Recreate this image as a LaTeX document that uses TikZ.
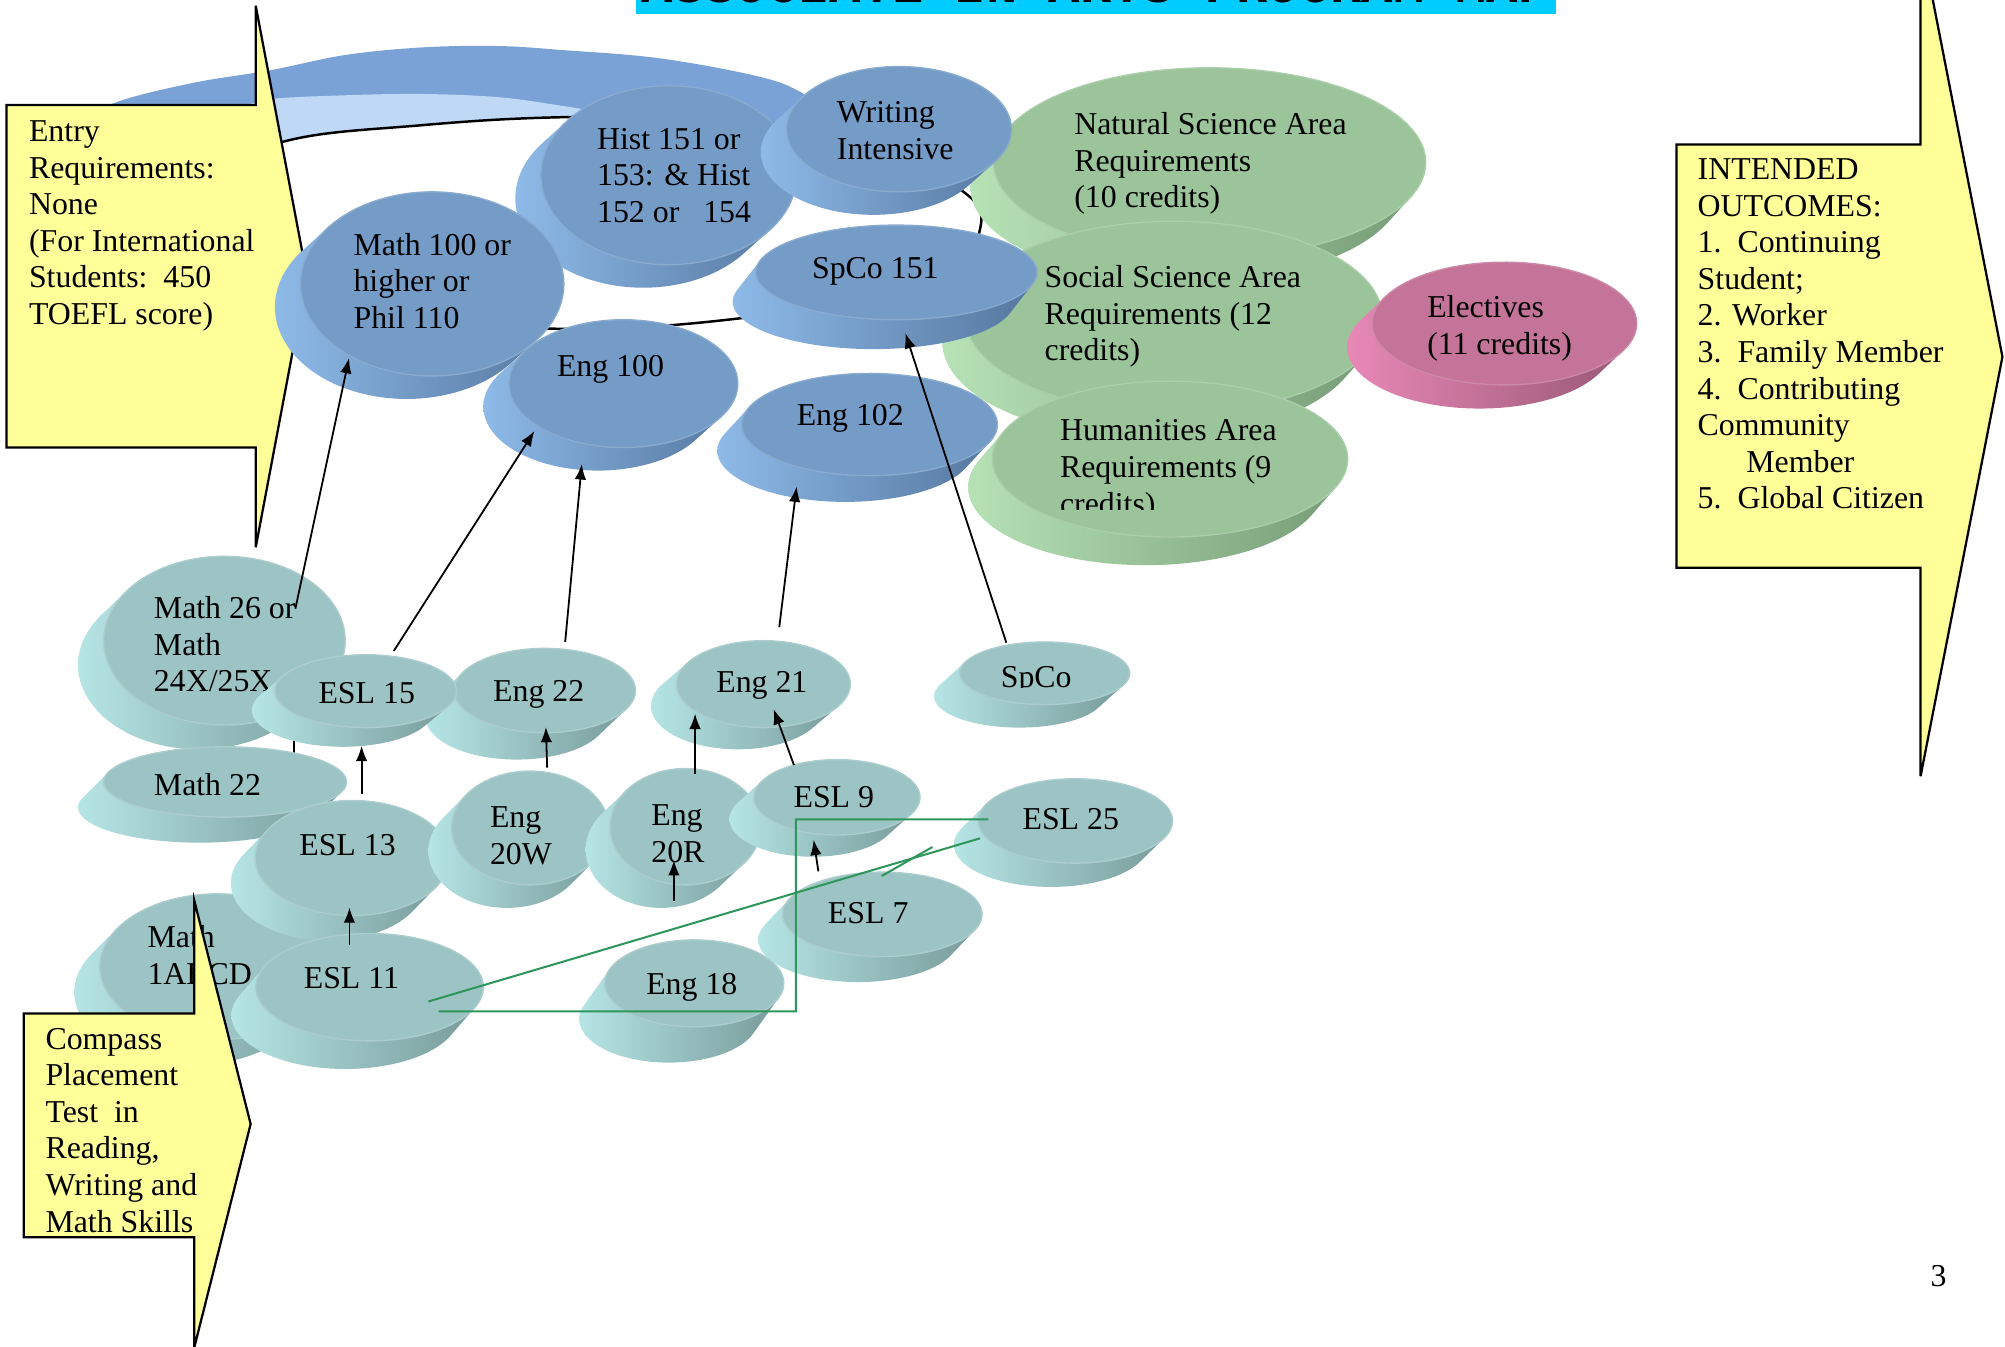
\documentclass[tikz,border=0pt]{standalone}
\usepackage{fontspec}
\setmainfont{Liberation Serif}
\newfontfamily\titlefont{Liberation Mono}
\usetikzlibrary{arrows.meta}

\definecolor{blueT}{RGB}{116,156,199}
\definecolor{blueL}{RGB}{142,186,232}
\definecolor{blueD}{RGB}{84,118,158}
\definecolor{tealT}{RGB}{157,196,196}
\definecolor{tealL}{RGB}{182,229,229}
\definecolor{tealD}{RGB}{118,152,152}
\definecolor{greenT}{RGB}{155,196,155}
\definecolor{greenL}{RGB}{182,226,182}
\definecolor{greenD}{RGB}{118,155,118}
\definecolor{pinkT}{RGB}{196,116,152}
\definecolor{pinkL}{RGB}{232,136,182}
\definecolor{pinkD}{RGB}{150,86,116}
\definecolor{calloutY}{RGB}{255,255,153}
\definecolor{titleC}{RGB}{0,204,255}
\definecolor{lineG}{RGB}{46,150,90}
\definecolor{archD}{RGB}{122,162,214}
\definecolor{archL}{RGB}{190,216,246}

% disc: cx cy rx ry dx dy colourprefix name
\newcommand\discshape[8]{%
  \pgfmathsetmacro\dtz{atan2(-(#4)*(#5),(#3)*(#6))}%
  \pgfmathsetmacro\dto{\dtz+180}%
  \pgfmathsetmacro\dte{\dtz+360}%
  \shade[left color=#7L, right color=#7D]
    plot[domain=\dto:\dte, samples=60, variable=\q] ({(#1)+(#3)*cos(\q)},{(#2)+(#4)*sin(\q)})
    -- plot[domain=\dtz:\dto, samples=60, variable=\q] ({(#1)+(#5)+(#3)*cos(\q)},{(#2)+(#6)+(#4)*sin(\q)})
    -- cycle;
  \filldraw[fill=#7T, draw=#7T!85!white, line width=0.3pt]
    plot[domain=0:360, samples=90, variable=\q] ({(#1)+(#3)*cos(\q)},{(#2)+(#4)*sin(\q)}) -- cycle;
  \coordinate (#8) at (#1,#2);
}
\newcommand\lbl[4]{\node[txt] (#1) at ({#2},{(#3)-20.03}) {\strut #4};}

\begin{document}
\begin{tikzpicture}[x=0.01cm,y=-0.01cm,
  txt/.style={anchor=north west, inner sep=0pt, align=left, font=\fontsize{7.08}{8.14}\selectfont},
  conn/.style={draw=black, line width=0.4pt, -{Latex[length=0.12cm,width=0.09cm]}},
  gline/.style={draw=lineG, line width=0.45pt},
  callout/.style={fill=calloutY, draw=black, line width=0.5pt, line join=miter}]
\useasboundingbox (0,0) rectangle (1568,1053);
\clip (0,0) rectangle (1568,1053);

% title bar
\fill[titleC] (497.4,0) rectangle (1216.8,10.7);
\node[anchor=base, inner sep=0pt, font=\titlefont\bfseries\fontsize{11.6}{12}\selectfont] (title) at (857,1.6) {ASSOCIATE IN ARTS PROGRAM MAP};

% arch background
\fill[archD] plot[smooth, tension=0.6] coordinates {(60,100) (88.6,80.8) (150,65) (211,55) (270,43) (331,37) (390,36) (438,39) (516,45.6) (594,60) (628,73) (660,95)}
   -- (680,120) -- (640,200) -- (150,200) -- (60,140) -- cycle;
\fill[archL] plot[smooth, tension=0.6] coordinates {(190,84) (211,77.5) (270,74.5) (331,73.5) (390,76) (438,82.5) (470,88) (500,95)}
   -- (500,160) -- (190,160) -- cycle;
\filldraw[fill=white, draw=black, line width=0.55pt] plot[smooth cycle, tension=0.7] coordinates {(221.6,110.8) (331,97.8) (445.8,91.5) (560,93) (660,108) (748,146) (766,181) (730,222) (578,249) (429,257) (300,245) (200,200) (175,140)};

% callouts
\draw[callout] (5,82) -- (200,82) -- (200,4.5) -- (240,216) -- (200,428) -- (200,350) -- (5,350) -- cycle;
\lbl{entry}{22}{110}{Entry\\Requirements:\\None\\(For International\\Students:\ \ 450\\TOEFL score)}
\draw[callout] (1311,113) -- (1502,113) -- (1502,-49) -- (1566,279) -- (1502,607) -- (1502,444) -- (1311,444) -- cycle;
\lbl{outcomes}{1327}{139.7}{INTENDED\\OUTCOMES:\\1.\ \ Continuing\\Student;\\2. Worker\\3.\ \ Family Member\\4.\ \ Contributing\\Community\\\hspace*{1.53em}Member\\5.\ \ Global Citizen}

% partly hidden link between Math 22 and Math 26
\coordinate (m22link) at (230,600);
\coordinate (m26link) at (230,565);
\draw[line width=0.4pt] (m22link) -- (m26link);

% green and pink discs
\discshape{946}{127}{169}{74}{-18}{20}{green}{ns}
\lbl{nst}{839.5}{104.4}{Natural Science Area\\Requirements\\(10 credits)}
\discshape{918}{248}{163}{75}{-18}{20}{green}{ss}
\lbl{sst}{816.3}{224.3}{Social Science Area\\Requirements (12\\credits)}
\discshape{915}{359}{139}{61}{-19}{22}{green}{hum}
\begin{scope}
\clip (800,300) rectangle (1060,398.4);
\lbl{humt}{828.3}{344.1}{Humanities Area\\Requirements (9\\credits)}
\end{scope}
\discshape{1176.5}{253}{103.5}{48}{-19.5}{18.5}{pink}{elec}
\lbl{elect}{1115.5}{247.6}{Electives\\(11 credits)}

% blue discs
\discshape{523}{137}{100}{70}{-20}{18}{blue}{hist}
\lbl{histt}{466.3}{116.1}{Hist 151 or\\153: \& Hist\\152 or\ \ \ 154}
\discshape{338}{222}{103}{72}{-20}{18}{blue}{m100}
\lbl{m100t}{275.8}{199}{Math 100 or\\higher or\\Phil 110}
\discshape{487.5}{300}{89.5}{50}{-20}{18}{blue}{eng100}
\lbl{eng100t}{434.9}{293.9}{Eng 100}
\discshape{680}{332}{100}{40}{-19}{20.5}{blue}{eng102}
\lbl{eng102t}{622.4}{332.2}{Eng 102}
\discshape{703}{101}{88}{49}{-20}{18}{blue}{wi}
\lbl{wit}{653.8}{95.1}{Writing\\Intensive}
\discshape{701}{213}{110}{37}{-18}{23}{blue}{spco151}
\lbl{spco151t}{634.4}{217}{SpCo 151}

% teal discs
\discshape{175.5}{501}{94.5}{66}{-20}{19}{teal}{m26}
\lbl{m26t}{119.7}{483}{Math 26 or\\Math\\24X/25X}
\discshape{170}{756}{92}{57}{-20}{20}{teal}{m1}
\lbl{m1t}{114.7}{740.2}{Math\\1ABCD}
\discshape{176}{611.5}{95}{27.5}{-20}{20}{teal}{m22}
\lbl{m22t}{119.7}{621}{Math 22}
\discshape{426}{540}{71}{33}{-22}{21}{teal}{eng22}
\lbl{eng22t}{385}{547.8}{Eng 22}
\discshape{286}{540.5}{71}{28.5}{-18}{15}{teal}{esl15}
\lbl{esl15t}{248.4}{549.4}{ESL 15}
\discshape{275.5}{671}{76}{45}{-19}{19.5}{teal}{esl13}
\lbl{esl13t}{233.4}{668.7}{ESL 13}
\discshape{414.5}{647.5}{61.5}{44.5}{-18}{18}{teal}{eng20w}
\lbl{eng20wt}{382.5}{646.8}{Eng\\20W}
\discshape{536}{646.5}{59}{45.5}{-19}{18}{teal}{eng20r}
\lbl{eng20rt}{508.7}{644.8}{Eng\\20R}
\discshape{597}{535}{68}{34}{-20}{17}{teal}{eng21}
\lbl{eng21t}{559.5}{540.6}{Eng 21}
\discshape{654.5}{623.5}{65}{29.5}{-19}{17}{teal}{esl9}
\lbl{esl9t}{619.9}{630.9}{ESL 9}
\discshape{690}{715}{78}{33}{-19}{20}{teal}{esl7}
\lbl{esl7t}{646.8}{721.5}{ESL 7}
\discshape{543}{769}{70}{34}{-20}{28}{teal}{eng18}
\lbl{eng18t}{504.7}{777.2}{Eng 18}
\discshape{289}{772}{89}{42}{-19}{22}{teal}{esl11}
\lbl{esl11t}{236.9}{772}{ESL 11}
\discshape{817}{526.5}{66.5}{24.5}{-20}{18}{teal}{spco}
\begin{scope}
\clip (760,490) rectangle (880,538);
\lbl{spcot}{782}{537}{SpCo}
\end{scope}
\discshape{841}{642}{76}{33}{-19}{18.6}{teal}{esl25}
\lbl{esl25t}{799}{647.8}{ESL 25}

% compass callout
\draw[callout] (18.5,792.6) -- (152,792.6) -- (152,704.5) -- (196,879) -- (152,1053.5) -- (152,967.5) -- (18.5,967.5) -- cycle;
\lbl{compass}{34.9}{819.7}{Compass\\Placement\\Test\ \ in\\Reading,\\Writing and\\Math Skills}

% connector end points
\coordinate (m26out) at (231,476);      \coordinate (m100in) at (273,280);
\coordinate (esl15out) at (308,509);    \coordinate (eng100inA) at (418,337);
\coordinate (eng22out) at (442,502);    \coordinate (eng100inB) at (455,363);
\coordinate (eng21out) at (609.4,490.5);\coordinate (eng102in) at (623,380.5);
\coordinate (spcoout) at (787,502.6);   \coordinate (spco151in) at (708,260.5);
\coordinate (esl13out) at (282.8,621);  \coordinate (esl15in) at (282.8,583.2);
\coordinate (eng20wout) at (427.9,600.3); \coordinate (eng22in) at (426.9,568.5);
\coordinate (eng20rout) at (543.6,605); \coordinate (eng21inA) at (543.6,558.1);
\coordinate (esl9out) at (620.9,598.3); \coordinate (eng21inB) at (605,554.5);
\coordinate (esl11out) at (273.3,739.4);\coordinate (esl13in) at (273.3,709.6);
\coordinate (esl7out) at (640,681.4);   \coordinate (esl9in) at (636.3,656.7);
\coordinate (eng18out) at (527,704.4);  \coordinate (eng20rin) at (527,672.6);

\draw[conn] (m26out) -- (m100in);
\draw[conn] (esl15out) -- (eng100inA);
\draw[conn] (eng22out) -- (eng100inB);
\draw[conn] (eng21out) -- (eng102in);
\draw[conn] (spcoout) -- (spco151in);
\draw[conn] (esl13out) -- (esl15in);
\draw[conn] (eng20wout) -- (eng22in);
\draw[conn] (eng20rout) -- (eng21inA);
\draw[conn] (esl9out) -- (eng21inB);
\draw[conn] (esl11out) -- (esl13in);
\draw[conn] (esl7out) -- (esl9in);
\draw[conn] (eng18out) -- (eng20rin);

% green lines
\coordinate (g1a) at (343,791);  \coordinate (g1b) at (622.4,791);
\coordinate (g1c) at (622.4,640.8); \coordinate (g1d) at (772.9,640.7);
\coordinate (g2a) at (335,783.2); \coordinate (g2b) at (766.4,655.6);
\coordinate (g3a) at (689.6,685); \coordinate (g3b) at (729.2,662.4);
\draw[gline] (g1a) -- (g1b) -- (g1c) -- (g1d);
\draw[gline] (g2a) -- (g2b);
\draw[gline] (g3a) -- (g3b);

\node[anchor=base, inner sep=0pt, font=\fontsize{7.08}{8.14}\selectfont] (pagenum) at (1516,1006) {3};
\end{tikzpicture}
\end{document}
